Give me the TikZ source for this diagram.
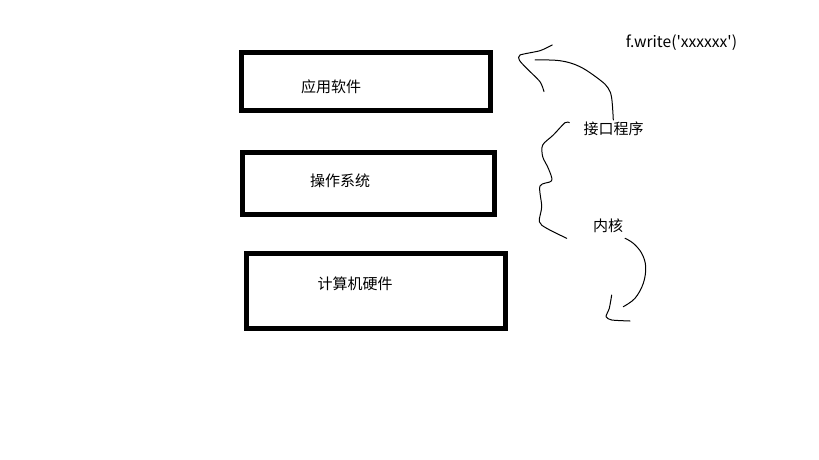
\documentclass[tikz,border=0pt]{standalone}
\usepackage{fontspec}
\newfontfamily\cjk{Noto Sans CJK SC}
\begin{document}
\begin{tikzpicture}[x=1pt,y=-1pt,
  layer/.style={draw=black,line width=5pt,fill=white},
  label/.style={font=\cjk\fontsize{15pt}{18pt}\selectfont,inner sep=0pt,anchor=center},
  stroke/.style={black,line width=1pt,line cap=round,line join=round}]
\useasboundingbox[fill=white] (0,0) rectangle (819,460);
% the three layers
\draw[layer] (241.7,52.5) rectangle (490,110);
\draw[layer] (242.5,152) rectangle (494,214);
\draw[layer] (246.5,253) rectangle (505.5,328);
\node[label] (app) at (331,86.5) {应用软件};
\node[label] (os) at (340,181) {操作系统};
\node[label] (hw) at (355,284) {计算机硬件};
% notes on the right
\node[label,font=\cjk\fontsize{15.6pt}{18pt}\selectfont] (call) at (681.5,43) {f.write('xxxxxx')};
\node[label] (api) at (613.5,129) {接口程序};
\node[label] (kernel) at (608,226) {内核};
% interface program curving back up to the application
\draw[stroke] plot[smooth,tension=0.6] coordinates {(613.3,120) (611.7,98.3) (608.3,88.3) (600,80) (580,66.7) (560,60.7) (535,60)};
\draw[stroke] plot[smooth,tension=0.4] coordinates {(552.3,45) (540,50.7) (520,55) (519.3,60) (525,66.7) (540,81.7) (544,91.7)};
% brace from interface program to kernel
\draw[stroke] plot[smooth,tension=0.5] coordinates {(569.3,122.7) (565,122.7) (553.3,135) (542.7,145) (542.7,156.7) (548.3,168.3) (551.7,180.7) (540,186) (541.7,206.7) (539.3,221.7) (546.7,228.3) (566.7,238.3)};
% kernel curving down to the hardware
\draw[stroke] plot[smooth,tension=0.6] coordinates {(625,238.3) (633.3,243.3) (641.7,253.3) (645.7,266.7) (643.3,283.3) (635,298.3) (623.3,306.7)};
\draw[stroke] plot[smooth,tension=0.4] coordinates {(611.7,295) (609.3,308.3) (606,316.7) (611.7,320) (630,321)};
\end{tikzpicture}
\end{document}
